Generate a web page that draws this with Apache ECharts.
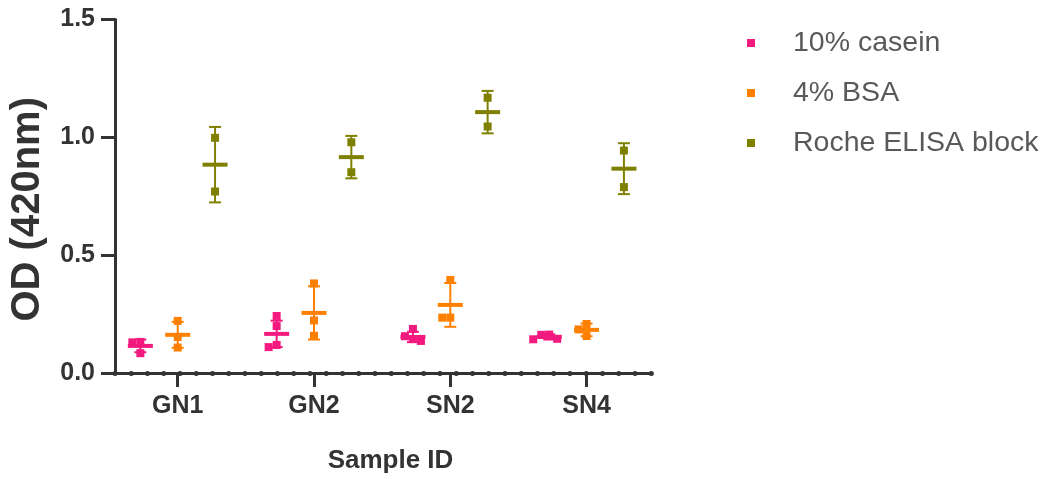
<!DOCTYPE html>
<html>
<head>
  <meta charset="utf-8">
  <title>OD by sample and blocking agent</title>
  <script src="https://cdn.jsdelivr.net/npm/echarts@6/dist/echarts.min.js"></script>
  <style>
    html, body { margin: 0; padding: 0; background: #fff; }
    #chart { width: 1043px; height: 479px; }
  </style>
</head>
<body>
  <div id="chart"></div>
  <script>
    // sample ids and blocking agents
    const samples = ['GN1', 'GN2', 'SN2', 'SN4'];
    const agents = ['10% casein', '4% BSA', 'Roche ELISA block'];

    // replicate readings per sample
    const caseinPts = [[0.132, 0.13, 0.084], [0.242, 0.199, 0.119, 0.11], [0.187, 0.156, 0.144, 0.136], [0.163, 0.162, 0.145, 0.143]];
    const bsaPts = [[0.221, 0.153, 0.108], [0.38, 0.223, 0.158], [0.395, 0.235, 0.235], [0.208, 0.185, 0.157]];
    const rochePts = [[0.998, 0.77], [0.979, 0.852], [1.168, 1.046], [0.944, 0.789]];

    // mean and SD as drawn
    const caseinMean = [0.115, 0.166, 0.153, 0.153];
    const caseinSD = [0.027, 0.056, 0.022, 0.011];
    const bsaMean = [0.162, 0.255, 0.289, 0.183];
    const bsaSD = [0.055, 0.113, 0.093, 0.027];
    const rocheMean = [0.884, 0.916, 1.107, 0.867];
    const rocheSD = [0.16, 0.09, 0.09, 0.108];

    const yTicks = [0, 0.5, 1.0, 1.5];

    const colors = ['#F2197F', '#FF8000', '#808000'];
    const offsets = [-0.274, 0, 0.274];
    const font = "'Liberation Sans', Arial, sans-serif";
    const axisColor = '#333';
    const S = 8; // marker size

    function makeRender(pts, color) {
      return function (params, api) {
        const x = api.value(0);
        const c = api.coord([x, api.value(1)]);
        const lo = api.coord([x, api.value(2)]);
        const hi = api.coord([x, api.value(3)]);
        const ls = { stroke: color, lineWidth: 2 };
        const children = [
          { type: 'line', shape: { x1: c[0], y1: hi[1], x2: c[0], y2: lo[1] }, style: ls },
          { type: 'line', shape: { x1: c[0] - 6, y1: hi[1], x2: c[0] + 6, y2: hi[1] }, style: ls },
          { type: 'line', shape: { x1: c[0] - 6, y1: lo[1], x2: c[0] + 6, y2: lo[1] }, style: ls }
        ];
        // simple swarm so overlapping squares sit side by side
        const placed = [];
        pts[params.dataIndex].forEach(function (v) {
          const p = api.coord([x, v]);
          let dx = 0;
          for (const d of [0, -S, S, -2 * S, 2 * S]) {
            const hit = placed.some(function (q) {
              return Math.abs(q[0] - d) < S - 0.5 && Math.abs(q[1] - p[1]) < S - 0.5;
            });
            if (!hit) { dx = d; break; }
          }
          placed.push([dx, p[1]]);
          children.push({
            type: 'rect',
            shape: { x: c[0] + dx - S / 2, y: p[1] - S / 2, width: S, height: S },
            style: { fill: color }
          });
        });
        children.push({
          type: 'rect',
          shape: { x: c[0] - 12.5, y: c[1] - 2, width: 25, height: 4 },
          style: { fill: color }
        });
        return { type: 'group', children: children };
      };
    }

    function makeSeries(k, pts, mean, sd) {
      return {
        name: agents[k],
        type: 'custom',
        xAxisIndex: 0,
        yAxisIndex: 0,
        itemStyle: { color: colors[k] },
        renderItem: makeRender(pts, colors[k]),
        encode: { x: 0, y: [1, 2, 3] },
        data: samples.map(function (s, i) {
          return [i + 1 + offsets[k], mean[i], mean[i] - sd[i], mean[i] + sd[i]];
        })
      };
    }

    const chart = echarts.init(document.getElementById('chart'));
    chart.setOption({
      animation: false,
      textStyle: { fontFamily: font },
      grid: { left: 114, right: 391, top: 19.5, bottom: 106 },
      legend: {
        orient: 'vertical',
        left: 747,
        top: 28,
        padding: 0,
        itemWidth: 8,
        itemHeight: 8,
        itemGap: 20,
        selectedMode: false,
        data: agents.map(function (a) { return { name: a, icon: 'rect' }; }),
        textStyle: { fontFamily: font, fontSize: 28.5, color: '#595959', lineHeight: 30, padding: [0, 0, 0, 33] }
      },
      xAxis: [{
        type: 'value',
        min: 0.54,
        max: 4.48,
        name: 'Sample ID',
        nameLocation: 'middle',
        nameGap: 75,
        nameTextStyle: { fontFamily: font, fontSize: 26, fontWeight: 'bold', color: axisColor, padding: [0, 0, 0, 14] },
        splitLine: { show: false },
        axisLine: { onZero: false, lineStyle: { color: axisColor, width: 3 } },
        axisTick: { customValues: [1, 2, 3, 4], length: 14, lineStyle: { color: axisColor, width: 3 } },
        axisLabel: {
          customValues: [1, 2, 3, 4],
          formatter: function (v) { return samples[Math.round(v) - 1]; },
          fontFamily: font, fontSize: 25, fontWeight: 'bold', color: axisColor, margin: 21
        }
      }, {
        // dotted overlay along the x axis
        type: 'value',
        min: 0.54,
        max: 4.48,
        position: 'bottom',
        splitLine: { show: false },
        axisTick: { show: false },
        axisLabel: { show: false },
        axisLine: { onZero: false, lineStyle: { color: axisColor, width: 5, type: [0.01, 16.24], cap: 'round' } }
      }],
      yAxis: {
        type: 'value',
        min: 0,
        max: 1.5,
        interval: 0.5,
        name: 'OD (420nm)',
        nameLocation: 'middle',
        nameGap: 67,
        nameTextStyle: { fontFamily: font, fontSize: 40, fontWeight: 'bold', color: axisColor, padding: [0, 26, 0, 0] },
        splitLine: { show: false },
        axisLine: { show: true, onZero: false, lineStyle: { color: axisColor, width: 3 } },
        axisTick: { show: true, length: 14, lineStyle: { color: axisColor, width: 3 } },
        axisLabel: {
          customValues: yTicks,
          formatter: function (v) { return v.toFixed(1); },
          fontFamily: font, fontSize: 25, fontWeight: 'bold', color: axisColor, margin: 20
        }
      },
      series: [
        makeSeries(0, caseinPts, caseinMean, caseinSD),
        makeSeries(1, bsaPts, bsaMean, bsaSD),
        makeSeries(2, rochePts, rocheMean, rocheSD)
      ]
    });
  </script>
</body>
</html>
